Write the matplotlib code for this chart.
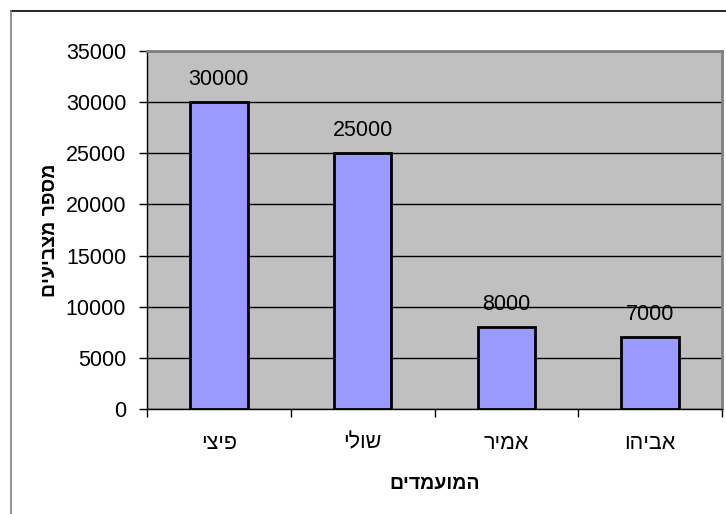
import matplotlib.pyplot as plt
from matplotlib.lines import Line2D

# data
candidates = ["פיצי", "שולי", "אמיר", "אביהו"]
votes = [30000, 25000, 8000, 7000]
y_ticks = [0, 5000, 10000, 15000, 20000, 25000, 30000, 35000]
x_title = "המועמדים"
y_title = "מספר מצביעים"


def rtl(s):
    # matplotlib has no bidi support, so flip Hebrew for display
    return s[::-1]


plt.rcParams['font.family'] = ['Liberation Sans', 'DejaVu Sans']

fig = plt.figure(figsize=(7.26, 5.14), dpi=100)
fig.patch.set_facecolor('white')

# chart area frame (runs past the right/bottom edge like the original)
fx, fy = 10.5 / 726, 1 - 11 / 514
fig.add_artist(Line2D([fx, 1.0], [fy, fy], transform=fig.transFigure,
                      color='black', linewidth=1.2))
fig.add_artist(Line2D([fx, fx], [0, fy], transform=fig.transFigure,
                      color='#808080', linewidth=1.2))

ax = fig.add_axes([147 / 726, 1 - 409 / 514, 575 / 726, 358 / 514])
ax.set_facecolor('#C0C0C0')

pos = list(range(len(candidates)))
bars = ax.bar(pos, votes, width=0.4, color='#9999FF', edgecolor='black',
              linewidth=2, zorder=3)

for b, v in zip(bars, votes):
    ax.annotate(str(v), (b.get_x() + b.get_width() / 2, v),
                xytext=(0, 9), textcoords='offset points',
                ha='center', va='bottom', fontsize=15.5)

ax.set_xlim(-0.5, len(candidates) - 0.5)
ax.set_ylim(0, 35000)
ax.set_yticks(y_ticks)
ax.set_yticklabels([str(t) for t in y_ticks], fontsize=15.5)
ax.yaxis.grid(True, color='black', linewidth=1, zorder=1)
ax.tick_params(axis='y', length=6, width=1, direction='out', pad=9)

ax.set_xticks(pos)
ax.set_xticklabels([rtl(c) for c in candidates], fontsize=15.5)
ax.tick_params(axis='x', which='major', length=0, pad=17)
ax.set_xticks([p + 0.5 for p in pos[:-1]] + [-0.5, len(candidates) - 0.5], minor=True)
ax.tick_params(axis='x', which='minor', length=6, width=1, direction='out')

ax.set_xlabel(rtl(x_title), fontsize=14, fontweight='bold', labelpad=16)
ax.set_ylabel(rtl(y_title), fontsize=14, fontweight='bold', labelpad=5)

for side in ['top', 'right']:
    ax.spines[side].set_color('#808080')
    ax.spines[side].set_linewidth(2)
for side in ['left', 'bottom']:
    ax.spines[side].set_color('black')
    ax.spines[side].set_linewidth(1)

fig.savefig('out.png', dpi=100)
